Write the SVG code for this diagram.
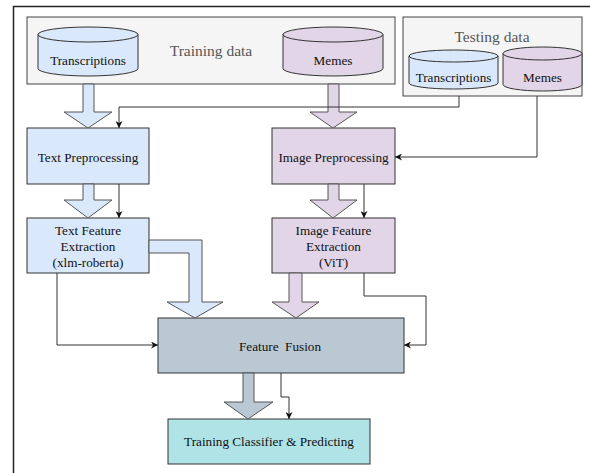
<svg xmlns="http://www.w3.org/2000/svg" width="590" height="473" viewBox="0 0 590 473" font-family="'Liberation Serif', 'DejaVu Serif', serif">
<defs>
<marker id="ah" viewBox="0 0 10 10" refX="10" refY="5" markerWidth="7" markerHeight="7" orient="auto" markerUnits="userSpaceOnUse">
<path d="M0,0 L10,5 L0,10 L3,5 z" fill="#111"/>
</marker>
<style>
text{font-family:'Liberation Serif','DejaVu Serif',serif;font-size:13.2px;fill:#111;text-anchor:middle;dominant-baseline:central}
.grp{font-size:15.5px;fill:#555}
.box{stroke:#333;stroke-width:1}
.blue{fill:#dae8fc}
.purple{fill:#e1d5e7}
.gray{fill:#bac8d3}
.teal{fill:#b0e3e6}
.cont{fill:#f5f5f5;stroke:#444;stroke-width:1}
.wide{stroke:#555;stroke-width:1}
.thin{fill:none;stroke:#333;stroke-width:1;marker-end:url(#ah)}
</style>
</defs>
<rect x="13.5" y="6.5" width="600" height="500" fill="#fff" stroke="#222" stroke-width="1.5"/>

<g id="training-data">
<rect class="cont" x="27" y="17" width="368" height="67"/>
<text class="grp" x="211" y="50">Training data</text>
</g>
<g id="train-transcriptions">
<path class="box blue" d="M38,34.5 a50,7.5 0 0 1 100,0 v34 a50,7.5 0 0 1 -100,0 z"/>
<path class="box" fill="none" d="M38,34.5 a50,7.5 0 0 0 100,0"/>
<text x="88" y="60">Transcriptions</text>
</g>
<g id="train-memes">
<path class="box purple" d="M283,34.5 a50,7.5 0 0 1 100,0 v34 a50,7.5 0 0 1 -100,0 z"/>
<path class="box" fill="none" d="M283,34.5 a50,7.5 0 0 0 100,0"/>
<text x="333" y="60">Memes</text>
</g>

<g id="testing-data">
<rect class="cont" x="403" y="17" width="179" height="79"/>
<text class="grp" x="492" y="36">Testing data</text>
</g>
<g id="test-transcriptions">
<path class="box blue" d="M409,56 a44.5,6 0 0 1 89,0 v27 a44.5,6 0 0 1 -89,0 z"/>
<path class="box" fill="none" d="M409,56 a44.5,6 0 0 0 89,0"/>
<text x="453.5" y="77">Transcriptions</text>
</g>
<g id="test-memes">
<path class="box purple" d="M503,53.5 a39.5,6.5 0 0 1 79,0 v31 a39.5,6.5 0 0 1 -79,0 z"/>
<path class="box" fill="none" d="M503,53.5 a39.5,6.5 0 0 0 79,0"/>
<text x="542.5" y="77">Memes</text>
</g>

<g id="text-preprocessing">
<rect class="box blue" x="27" y="128" width="122" height="56"/>
<text x="88" y="157">Text Preprocessing</text>
</g>
<g id="image-preprocessing">
<rect class="box purple" x="272" y="128" width="123" height="56"/>
<text x="333.5" y="157">Image Preprocessing</text>
</g>
<g id="text-feature-extraction">
<rect class="box blue" x="27" y="218" width="122" height="55"/>
<text x="88" y="230">Text Feature</text>
<text x="88" y="246">Extraction</text>
<text x="88" y="262">(xlm-roberta)</text>
</g>
<g id="image-feature-extraction">
<rect class="box purple" x="272" y="218" width="123" height="55"/>
<text x="333.5" y="230">Image Feature</text>
<text x="333.5" y="246">Extraction</text>
<text x="333.5" y="262">(ViT)</text>
</g>
<g id="feature-fusion">
<rect class="box gray" x="158" y="318" width="246" height="55"/>
<text x="280" y="346" xml:space="preserve">Feature  Fusion</text>
</g>
<g id="training-classifier">
<rect class="box teal" x="168" y="419" width="202" height="45"/>
<text x="269" y="441">Training Classifier &amp; Predicting</text>
</g>

<g id="connectors">
<polygon class="wide blue" points="83,84 94,84 94,112 112,112 88,128 64,112 83,112"/>
<polygon class="wide purple" points="328,84 339,84 339,112 357,112 333,128 310,112 328,112"/>
<polygon class="wide blue" points="83,184 94,184 94,200 112,200 88,218 64,200 83,200"/>
<polygon class="wide purple" points="328,184 339,184 339,200 357,200 333,218 310,200 328,200"/>
<polygon class="wide blue" points="149,240 202,240 202,302 223,302 195,318 167,302 189,302 189,253 149,253"/>
<polygon class="wide purple" points="289,273 302,273 302,302 319,302 296,318 272,302 289,302"/>
<polygon class="wide gray" points="243,373 254,373 254,402 273,402 248,419 224,402 243,402"/>
<path class="thin" d="M459,96 V107 H119 V128"/>
<path class="thin" d="M537,96 V157 H395"/>
<path class="thin" d="M119,184 V218"/>
<path class="thin" d="M364,184 V218"/>
<path class="thin" d="M57,273 V345 H158"/>
<path class="thin" d="M364,273 V296 H426 V345 H404"/>
<path class="thin" d="M281,373 V397 H289 V419"/>
</g>
</svg>
